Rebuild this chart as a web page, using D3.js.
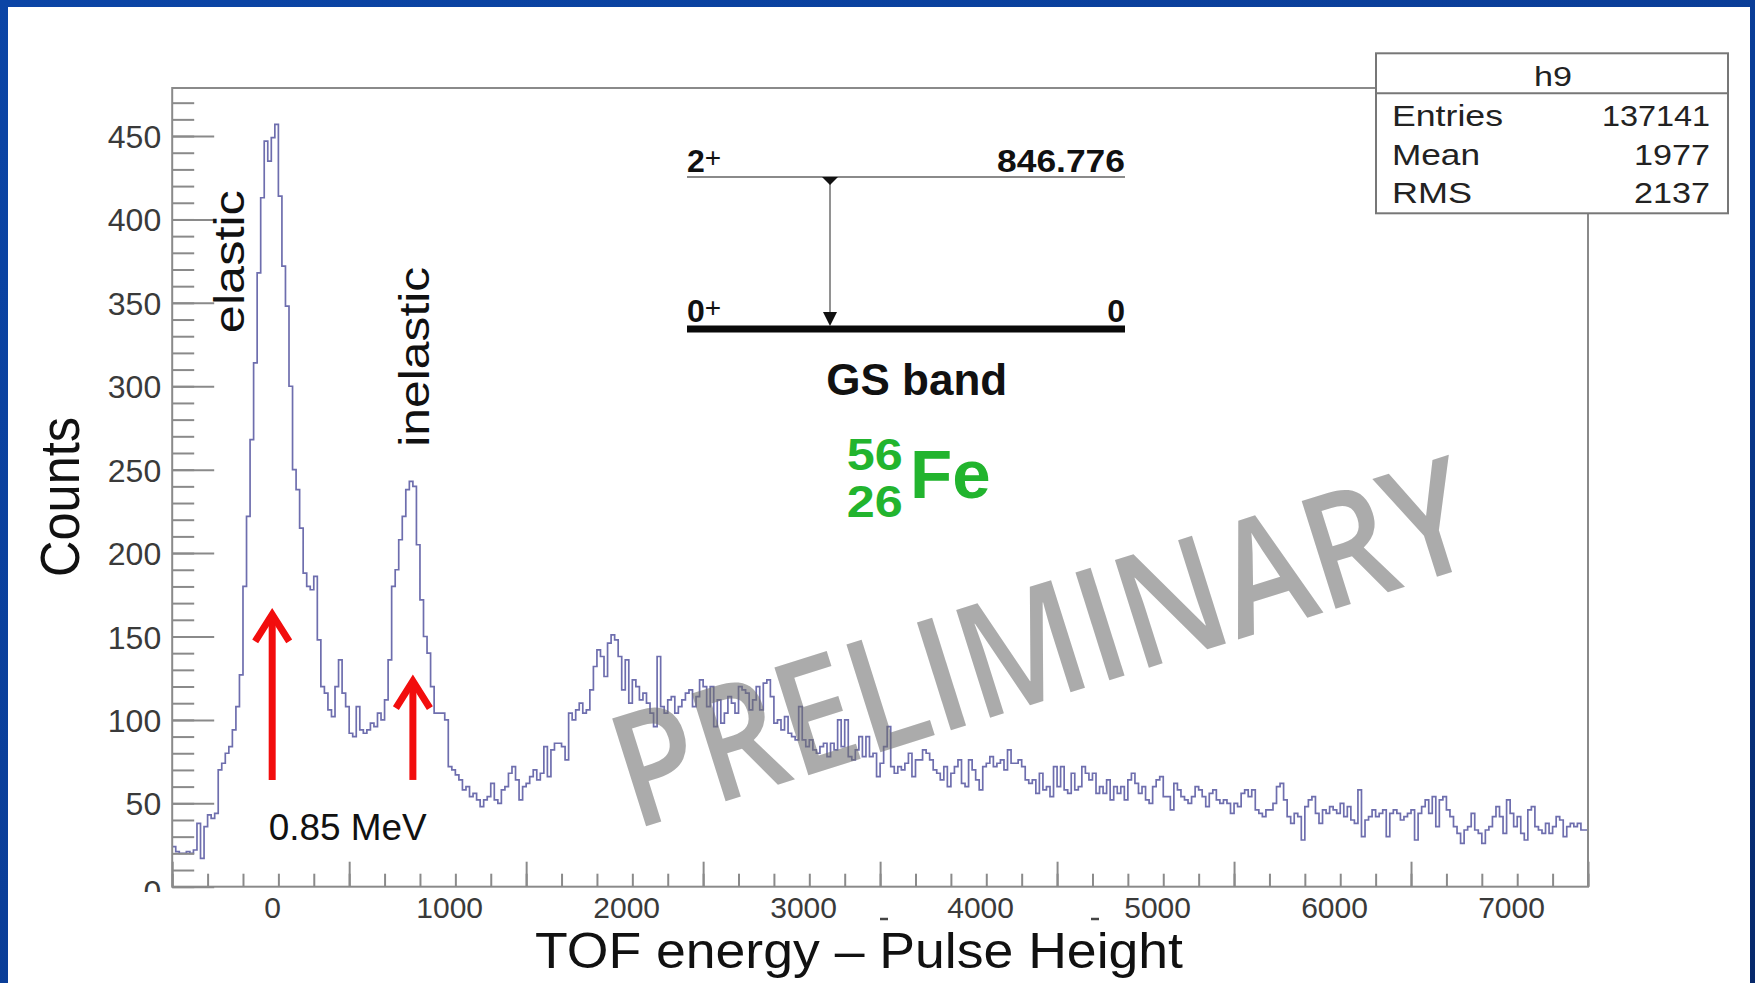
<!DOCTYPE html>
<html><head><meta charset="utf-8">
<script src="https://cdn.jsdelivr.net/npm/d3@7"></script>
<style>html,body{margin:0;padding:0;background:#fff;overflow:hidden}</style>
</head><body>
<svg id="c" width="1755" height="983"></svg>
<script>
// ---------------- data ----------------
const binStart = -565, binWidth = 20;
const countsLeft = [24,21,20,20,21,20,22,38,17,36,43,41,44,70,74,80,84,94,108,127];
const countsElastic = [180,222,268,314,368,413,447,435,449,457,414,372,348,300,250,238,215,188,180,178,186];
const countsValley = [148,120,116,106,102,120,136,116,108,92,90,108,94,92,94,98,96,104,100,112,136];
const countsInelastic = [180,190,208,222,238,243,240,205,172,150,140,120,104,104,104,100];
const countsDip = [72,70,67,64,58,60,54,56,52,48,52,54,62,52,50,58,60,68,72,64,52,60,62,66,70,64,68,84,66,82,86,86,84,76];
const countsBump = [104,100,106,110,104,106,118,132,142,138,126,146,151,148,138,118,136,110,124,120,112,116,110,104,96,138,108,104,112];
const countsMid = [
 114,104,108,112,116,118,108,114,124,120,
 108,120,96,112,98,104,114,110,104,120,
 118,116,106,112,120,106,122,124,114,98,
 100,94,102,92,90,88,108,88,84,88,
 82,80,84,86,78,86,82,100,84,100,
 78,76,82,90,78,90,78,80,66,74,
 84,96,72,68,72,70,74,80,66,76,
 76,82,80,76,70,68,64,72,60,68,
 72,76,62,60,76,70,64,58,72,74,
 78,72,74,76,70,82,74,74,76,72,
 64,62,64,56,68,58,60,54,72,60,
 72,58,56,68,58,60,72,68,64,68,
 56,60,56,64,52,60,56,60,52,64,
 68,62,56];
const countsTail = [
 60,52,50,60,64,66,54,54,46,62,
 58,54,52,50,54,60,58,54,48,56,
 58,52,50,52,50,44,50,48,56,58,
 54,58,46,44,42,46,46,50,60,62,
 52,42,38,44,42,28,48,52,54,44,
 38,46,44,48,46,44,50,42,48,40,
 38,58,30,40,42,46,42,44,46,30,
 44,46,44,40,42,44,46,28,44,48,
 52,44,54,36,52,54,46,42,36,32,
 26,34,36,44,34,32,26,34,36,42,
 48,42,32,52,44,36,42,32,28,46,
 48,36,34,32,38,32,36,42,40,30,
 36,38,36,38,34,34];
const counts = [].concat(countsLeft, countsElastic, countsValley, countsInelastic, countsDip, countsBump, countsMid, countsTail);

const xDomain = [-565, 7435];
const yDomain = [0, 478.8];
const xTickLabels = [0,1000,2000,3000,4000,5000,6000,7000];
const yTickLabels = [0,50,100,150,200,250,300,350,400,450];
const xMinorTicks = d3.range(0, 41).map(i => -565 + 200*i);
const xMajorTicks = d3.range(0, 9).map(i => -565 + 1000*i);
const yMinorTicks = d3.range(0, 480, 10);
const yMajorTicks = yTickLabels;

const statsTitle = "h9";
const statsNames = ["Entries","Mean","RMS"];
const statsValues = ["137141","1977","2137"];

const levelSpins = ["2", "0"];
const levelEnergies = ["846.776", "0"];
const arrowX = [0, 795];          // red arrows (x units)
const arrowTop = [165, 125];      // counts
const arrowBottom = [64, 64];

// ---------------- layout ----------------
const svg = d3.select("#c");
const W = 1755, H = 983;
const plot = {left: 172.2, right: 1588, top: 88, bottom: 886.7};
const x = d3.scaleLinear().domain(xDomain).range([plot.left, plot.right]);
const y = d3.scaleLinear().domain(yDomain).range([plot.bottom, plot.top]);
const sans = "'Liberation Sans', Arial, Helvetica, sans-serif";

const defs = svg.append("defs");
const g1 = defs.append("linearGradient").attr("id","bg").attr("x1","0").attr("x2","1").attr("y1","0").attr("y2","1");
g1.append("stop").attr("offset","0").attr("stop-color","#0b45a6");
g1.append("stop").attr("offset","0.6").attr("stop-color","#0a3c95");
g1.append("stop").attr("offset","1").attr("stop-color","#07296b");
svg.append("rect").attr("width",W).attr("height",H).attr("fill","url(#bg)");
svg.append("rect").attr("x",8).attr("y",7).attr("width",1742).attr("height",H-7).attr("fill","#ffffff");

defs.append("clipPath").attr("id","plotclip").append("rect")
  .attr("x",plot.left).attr("y",plot.top).attr("width",plot.right-plot.left).attr("height",plot.bottom-plot.top);
defs.append("clipPath").attr("id","ylabclip").append("rect")
  .attr("x",0).attr("y",0).attr("width",plot.left).attr("height",892);

// ---------------- histogram ----------------
const pts = [];
counts.forEach((c,i) => {
  const x0 = binStart + i*binWidth, x1 = x0 + binWidth;
  pts.push([x0, c]); pts.push([x1, c]);
});
const line = d3.line().x(d => x(d[0])).y(d => y(d[1]));
svg.append("path").attr("d", line(pts)).attr("fill","none")
  .attr("stroke","#6e6eae").attr("stroke-width",1.7).attr("stroke-linejoin","miter")
  .attr("clip-path","url(#plotclip)");

// ---------------- axes ----------------
const axisColor = "#8a8a8a";
function styleAxis(g){ g.select(".domain").remove(); g.selectAll(".tick line").attr("stroke",axisColor).attr("stroke-width",2); }
svg.append("g").attr("transform",`translate(${plot.left},0)`)
  .call(d3.axisRight(y).tickValues(yMinorTicks).tickSize(22).tickFormat("")).call(styleAxis);
svg.append("g").attr("transform",`translate(${plot.left},0)`)
  .call(d3.axisRight(y).tickValues(yMajorTicks).tickSize(42).tickFormat("")).call(styleAxis);
svg.append("g").attr("transform",`translate(0,${plot.bottom})`)
  .call(d3.axisTop(x).tickValues(xMinorTicks).tickSize(13).tickFormat("")).call(styleAxis);
svg.append("g").attr("transform",`translate(0,${plot.bottom})`)
  .call(d3.axisTop(x).tickValues(xMajorTicks).tickSize(25).tickFormat("")).call(styleAxis);

// frame
svg.append("rect").attr("x",plot.left).attr("y",plot.top)
  .attr("width",plot.right-plot.left).attr("height",plot.bottom-plot.top)
  .attr("fill","none").attr("stroke",axisColor).attr("stroke-width",2);

// y labels (bottom "0" is partly hidden, as in the original)
const ylWrap = svg.append("g").attr("clip-path","url(#ylabclip)");
const yl = ylWrap.append("g").attr("transform",`translate(${plot.left},0)`)
  .call(d3.axisLeft(y).tickValues(yTickLabels).tickSize(0).tickPadding(11).tickFormat(d3.format("d")));
yl.select(".domain").remove();
yl.selectAll("text").attr("font-family",sans).attr("font-size",32).attr("fill","#3a3a3a")
  .attr("dy", d => d === 0 ? "0.5em" : "0.36em");

// x labels
const xl = svg.append("g").attr("transform",`translate(0,${plot.bottom})`)
  .call(d3.axisBottom(x).tickValues(xTickLabels).tickSize(0).tickPadding(0).tickFormat(d3.format("d")));
xl.select(".domain").remove();
xl.selectAll("text").attr("font-family",sans).attr("font-size",30).attr("fill","#3a3a3a")
  .attr("dy",null).attr("y",31);

// small dashes under axis
[[880,888],[1091,1099]].forEach(d => svg.append("line").attr("x1",d[0]).attr("x2",d[1]).attr("y1",919).attr("y2",919).attr("stroke","#444").attr("stroke-width",2.5));

// axis titles
svg.append("text").attr("x",859).attr("y",968).attr("text-anchor","middle")
  .attr("font-family",sans).attr("font-size",50).attr("fill","#111")
  .attr("textLength",648).attr("lengthAdjust","spacingAndGlyphs")
  .text("TOF energy \u2013 Pulse Height");
svg.append("text").attr("transform","translate(78.5,497) rotate(-90)").attr("text-anchor","middle")
  .attr("font-family",sans).attr("font-size",56).attr("fill","#111")
  .attr("textLength",160).attr("lengthAdjust","spacingAndGlyphs")
  .text("Counts");

// ---------------- annotations ----------------
svg.append("text").attr("transform",`translate(${x(-162)},${y(374.7)}) rotate(-90)`).attr("text-anchor","middle")
  .attr("font-family",sans).attr("font-size",43).attr("fill","#111")
  .attr("textLength",143).attr("lengthAdjust","spacingAndGlyphs").text("elastic");
svg.append("text").attr("transform",`translate(${x(884)},${y(317.7)}) rotate(-90)`).attr("text-anchor","middle")
  .attr("font-family",sans).attr("font-size",43).attr("fill","#111")
  .attr("textLength",180).attr("lengthAdjust","spacingAndGlyphs").text("inelastic");

const red = "#f20d0d";
arrowX.forEach((ax,i) => {
  const px = x(ax), pt = y(arrowTop[i]), pb = y(arrowBottom[i]);
  svg.append("line").attr("x1",px).attr("x2",px).attr("y1",pt+4).attr("y2",pb)
    .attr("stroke",red).attr("stroke-width",7);
  svg.append("path").attr("d",`M${px-17},${pt+30} L${px},${pt+3} L${px+17},${pt+30}`)
    .attr("fill","none").attr("stroke",red).attr("stroke-width",7).attr("stroke-linejoin","miter");
});
svg.append("text").attr("x",268.7).attr("y",840).attr("font-family",sans).attr("font-size",37).attr("fill","#111")
  .attr("textLength",158).attr("lengthAdjust","spacingAndGlyphs").text("0.85 MeV");

// level scheme
const lv = svg.append("g");
const lvLeft = 687, lvRight = 1125, lvTop = 177, lvBot = 329, arrX = 830;
lv.append("line").attr("x1",lvLeft).attr("x2",lvRight).attr("y1",lvTop).attr("y2",lvTop).attr("stroke","#8a8a8a").attr("stroke-width",2);
lv.append("line").attr("x1",lvLeft).attr("x2",lvRight).attr("y1",lvBot).attr("y2",lvBot).attr("stroke","#0a0a0a").attr("stroke-width",7);
lv.append("line").attr("x1",arrX).attr("x2",arrX).attr("y1",lvTop+6).attr("y2",lvBot-14).attr("stroke","#777").attr("stroke-width",1.6);
lv.append("path").attr("d",`M${arrX-8},${lvTop} L${arrX+8},${lvTop} L${arrX},${lvTop+8} Z`).attr("fill","#111");
lv.append("path").attr("d",`M${arrX-7},${lvBot-17} L${arrX+7},${lvBot-17} L${arrX},${lvBot-3} Z`).attr("fill","#111");
[[lvTop-5,0],[lvBot-7,1]].forEach(([by,i]) => {
  const t = lv.append("text").attr("x",lvLeft).attr("y",by).attr("font-family",sans).attr("font-weight","bold").attr("font-size",32).attr("fill","#111");
  t.append("tspan").text(levelSpins[i]);
  t.append("tspan").attr("font-size",28).attr("dy",-5).attr("font-weight","normal").text("+");
  lv.append("text").attr("x",lvRight).attr("y",by).attr("text-anchor","end").attr("font-family",sans)
    .attr("font-weight","bold").attr("font-size",32).attr("fill","#111")
    .attr("textLength", levelEnergies[i].length > 1 ? 128 : null).attr("lengthAdjust","spacingAndGlyphs")
    .text(levelEnergies[i]);
});
lv.append("text").attr("x",916.7).attr("y",395).attr("text-anchor","middle").attr("font-family",sans)
  .attr("font-weight","bold").attr("font-size",44).attr("fill","#111").text("GS band");
const green = "#22b42e";
lv.append("text").attr("x",846.7).attr("y",470).attr("font-family",sans).attr("font-weight","bold").attr("font-size",45).attr("fill",green)
  .attr("textLength",56).attr("lengthAdjust","spacingAndGlyphs").text("56");
lv.append("text").attr("x",846.7).attr("y",517).attr("font-family",sans).attr("font-weight","bold").attr("font-size",45).attr("fill",green)
  .attr("textLength",56).attr("lengthAdjust","spacingAndGlyphs").text("26");
lv.append("text").attr("x",910).attr("y",498.3).attr("font-family",sans).attr("font-weight","bold").attr("font-size",69).attr("fill",green).text("Fe");

// stats box
const sb = svg.append("g");
sb.append("rect").attr("x",1376).attr("y",53.3).attr("width",352).attr("height",160).attr("fill","#fff").attr("stroke","#777").attr("stroke-width",2);
sb.append("line").attr("x1",1376).attr("x2",1728).attr("y1",93.3).attr("y2",93.3).attr("stroke","#777").attr("stroke-width",2);
sb.append("text").attr("x",1553).attr("y",86).attr("text-anchor","middle").attr("font-family",sans).attr("font-size",27).attr("fill","#222")
  .attr("textLength",38).attr("lengthAdjust","spacingAndGlyphs").text(statsTitle);
const nameW = [111, 88, 80], valW = [108, 76, 76], rowY = [126, 164.5, 203];
statsNames.forEach((n,i) => {
  sb.append("text").attr("x",1392).attr("y",rowY[i]).attr("font-family",sans).attr("font-size",29).attr("fill","#222")
    .attr("textLength",nameW[i]).attr("lengthAdjust","spacingAndGlyphs").text(n);
  sb.append("text").attr("x",1710).attr("y",rowY[i]).attr("text-anchor","end").attr("font-family",sans).attr("font-size",29).attr("fill","#222")
    .attr("textLength",valW[i]).attr("lengthAdjust","spacingAndGlyphs").text(statsValues[i]);
});

// watermark
svg.append("text").attr("transform","translate(634,830) rotate(-17.5)")
  .attr("font-family","'Open Sans', 'DejaVu Sans', sans-serif").attr("font-size",158).attr("font-weight",600)
  .attr("fill","#6f6f6f").attr("fill-opacity",0.58)
  .attr("textLength",890).attr("lengthAdjust","spacingAndGlyphs").text("PRELIMINARY");
</script>
</body></html>
